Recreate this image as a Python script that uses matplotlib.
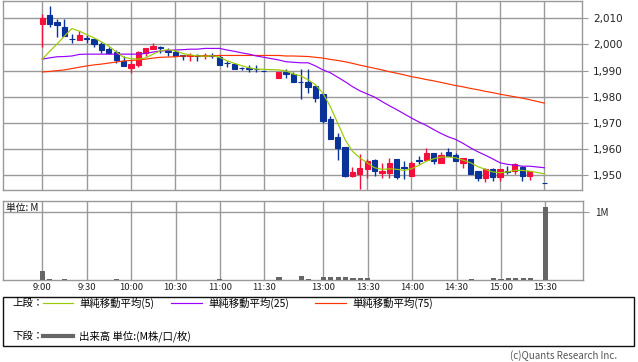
import numpy as np
import matplotlib
matplotlib.use("Agg")
import matplotlib.pyplot as plt
from matplotlib.patches import Rectangle
from matplotlib.lines import Line2D

plt.rcParams['font.family'] = ['Noto Sans CJK JP', 'DejaVu Sans']

nan = np.nan
# 5分足 (index 0 = 9:00, 31 / 67 = 取引なし)
opens = [2007.7, 2011.1, 2008.5, 2006.5, 2002.2, 2001.8, 2002.3, 2002.0, 2000.2, 1998.2,
         1997.3, 1993.8, 1991.0, 1992.3, 1996.6, 1998.2, 1998.9, 1997.6, 1997.2, 1995.8,
         1995.6, 1995.8, 1995.5, 1995.9, 1995.4, 1992.9, 1992.4, 1991.0, 1990.9, 1990.7,
         1989.8, nan, 1987.0, 1989.3, 1988.7, 1985.7, 1985.8, 1984.2, 1981.1, 1971.6,
         1964.5, 1960.8, 1949.7, 1950.4, 1952.5, 1955.8, 1950.9, 1951.0, 1956.1, 1953.0,
         1949.7, 1955.8, 1955.7, 1958.6, 1954.8, 1958.8, 1957.6, 1954.8, 1956.1, 1951.5,
         1949.0, 1952.3, 1949.4, 1951.6, 1951.6, 1953.3, 1949.7, nan, 1947.0]
highs = [2011.5, 2014.6, 2009.9, 2009.6, 2003.9, 2005.2, 2003.5, 2002.0, 2001.0, 1999.1,
         1997.9, 1995.6, 1994.1, 1997.5, 1998.6, 2000.6, 1999.4, 1998.5, 1997.9, 1996.0,
         1996.6, 1996.2, 1996.6, 1996.6, 1996.0, 1993.8, 1992.4, 1991.5, 1992.2, 1992.2,
         1989.8, nan, 1989.6, 1990.5, 1989.5, 1990.5, 1990.5, 1984.2, 1981.6, 1972.5,
         1966.0, 1960.8, 1953.2, 1958.0, 1956.1, 1956.2, 1954.8, 1956.8, 1956.1, 1955.4,
         1955.4, 1957.3, 1960.5, 1958.6, 1958.8, 1960.3, 1958.4, 1956.5, 1956.1, 1951.5,
         1952.7, 1952.9, 1952.3, 1953.5, 1954.8, 1953.5, 1951.6, nan, 1947.0]
lows = [1999.0, 2006.7, 2003.0, 2003.3, 2000.6, 2001.8, 2000.4, 1998.9, 1996.6, 1996.3,
        1992.8, 1991.9, 1989.2, 1991.5, 1995.5, 1998.1, 1996.6, 1995.6, 1995.6, 1993.9,
        1993.8, 1993.8, 1994.3, 1995.0, 1992.3, 1991.5, 1990.8, 1990.4, 1989.3, 1989.6,
        1989.8, nan, 1987.0, 1987.1, 1985.7, 1979.2, 1981.4, 1978.0, 1970.0, 1963.9,
        1955.8, 1949.3, 1949.5, 1944.6, 1949.1, 1949.8, 1949.1, 1949.1, 1948.7, 1948.7,
        1949.7, 1954.2, 1955.7, 1954.4, 1954.8, 1957.3, 1955.4, 1952.9, 1950.4, 1947.8,
        1947.5, 1947.8, 1947.8, 1950.6, 1950.4, 1947.8, 1948.2, nan, 1947.0]
closes = [2010.2, 2007.7, 2007.5, 2003.3, 2002.0, 2003.7, 2002.0, 2000.0, 1997.9, 1996.8,
          1994.0, 1991.9, 1992.5, 1997.0, 1998.6, 1999.4, 1998.5, 1997.1, 1995.6, 1995.6,
          1995.9, 1995.6, 1995.8, 1995.6, 1992.3, 1992.8, 1990.8, 1990.9, 1990.8, 1990.6,
          1989.8, nan, 1989.4, 1988.7, 1985.7, 1985.5, 1983.7, 1979.7, 1970.9, 1963.9,
          1960.5, 1949.7, 1951.4, 1952.7, 1955.4, 1951.5, 1951.5, 1954.6, 1949.5, 1952.7,
          1954.8, 1955.6, 1958.6, 1955.4, 1957.9, 1957.3, 1955.4, 1956.5, 1950.6, 1949.1,
          1952.3, 1949.5, 1952.3, 1951.3, 1954.4, 1949.7, 1951.6, nan, 1947.0]

# 移動平均 (チャートから読み取り)
ma5 = [1994.4, 1997.4, 2000.2, 2003.2, 2006.1, 2005.1, 2003.8, 2002.5, 2001.0, 1999.4,
       1997.2, 1995.1, 1994.6, 1994.4, 1994.9, 1996.3, 1997.6, 1998.0, 1997.6, 1996.6,
       1996.0, 1995.7, 1995.5, 1995.7, 1995.1, 1993.8, 1992.8, 1991.9, 1991.1, 1990.6,
       1990.5, nan, 1990.3, 1989.9, 1988.7, 1988.0, 1986.5, 1984.6, 1981.4, 1976.3,
       1970.0, 1963.7, 1959.2, 1956.7, 1954.8, 1952.9, 1952.3, 1952.5, 1952.3, 1951.9,
       1952.5, 1953.8, 1955.4, 1956.3, 1957.0, 1957.0, 1956.7, 1955.8, 1954.8, 1953.3,
       1952.3, 1951.3, 1951.0, 1951.3, 1951.9, 1951.9, 1951.6, nan, 1950.6]
ma25 = [1994.4, 1994.9, 1995.3, 1995.4, 1995.6, 1996.2, 1996.3, 1996.3, 1996.3, 1996.3,
        1996.3, 1996.3, 1996.3, 1996.3, 1996.6, 1997.1, 1997.5, 1997.7, 1997.9, 1998.0,
        1998.2, 1998.2, 1998.5, 1998.5, 1998.5, 1997.9, 1997.4, 1996.8, 1996.3, 1995.6,
        1995.1, nan, 1994.1, 1993.4, 1993.2, 1993.0, 1993.0, 1991.8, 1990.3, 1989.2,
        1987.5, 1985.8, 1983.9, 1982.3, 1981.1, 1979.9, 1978.2, 1976.6, 1975.1, 1973.5,
        1971.9, 1970.4, 1969.1, 1967.5, 1966.0, 1964.7, 1963.7, 1962.2, 1960.5, 1959.0,
        1957.7, 1956.3, 1954.8, 1954.2, 1953.9, 1953.5, 1953.5, nan, 1952.9]
ma75 = [1989.5, 1989.7, 1990.0, 1990.3, 1990.8, 1991.3, 1991.8, 1992.2, 1992.5, 1992.9,
        1993.3, 1993.7, 1993.9, 1994.1, 1994.4, 1994.8, 1995.1, 1995.2, 1995.3, 1995.6,
        1995.6, 1995.6, 1995.6, 1995.6, 1995.8, 1995.8, 1995.8, 1995.8, 1995.8, 1995.8,
        1995.8, nan, 1995.8, 1995.6, 1995.6, 1995.5, 1995.4, 1995.1, 1994.8, 1994.3,
        1993.9, 1993.4, 1992.8, 1992.1, 1991.5, 1990.9, 1990.3, 1989.6, 1989.0, 1988.4,
        1987.7, 1987.2, 1986.6, 1986.1, 1985.5, 1984.9, 1984.3, 1983.8, 1983.2, 1982.7,
        1982.1, 1981.6, 1981.0, 1980.5, 1980.0, 1979.5, 1978.9, nan, 1977.6]

# 出来高 (M)
volume = [0.13, 0.015, 0.006, 0.015, 0.006, 0.006, 0.006, 0.006, 0.006, 0.006,
          0.015, 0.006, 0.006, 0.006, 0.006, 0.006, 0.006, 0.006, 0.006, 0.006,
          0.006, 0.006, 0.006, 0.006, 0.015, 0.006, 0.006, 0.006, 0.006, 0.006,
          0.006, 0.0, 0.04, 0.006, 0.006, 0.055, 0.02, 0.006, 0.04, 0.04,
          0.04, 0.04, 0.025, 0.025, 0.025, 0.006, 0.006, 0.006, 0.006, 0.006,
          0.006, 0.006, 0.006, 0.006, 0.006, 0.006, 0.006, 0.006, 0.015, 0.006,
          0.006, 0.035, 0.02, 0.035, 0.035, 0.035, 0.035, 0.0, 1.07]

tick_pos = [0, 6, 12, 18, 24, 30, 38, 44, 50, 56, 62, 68]
tick_lbl = ['9:00', '9:30', '10:00', '10:30', '11:00', '11:30',
            '13:00', '13:30', '14:00', '14:30', '15:00', '15:30']
price_ticks = [1950, 1960, 1970, 1980, 1990, 2000, 2010]

W, H = 638, 362
def fx(x):
    return x / W
def fy(y):
    return 1 - y / H

up_c = '#f5103c'
dn_c = '#0a3399'
grid_c = '#999999'

fig = plt.figure(figsize=(W / 100, H / 100), dpi=100)
ax = fig.add_axes([fx(3), fy(190), (582 - 3) / W, 189.5 / H])
axv = fig.add_axes([fx(3), fy(280), (583 - 3) / W, 79 / H])

o = np.array(opens); h = np.array(highs); l = np.array(lows); c = np.array(closes)
idx = np.arange(len(o))
ok = ~np.isnan(o)

for i in idx[ok]:
    col = up_c if c[i] > o[i] else dn_c
    ax.vlines(i, l[i], h[i], color=col, lw=1.0, zorder=3)
    lo = min(o[i], c[i]); hi = max(o[i], c[i])
    ax.bar(i, hi - lo, bottom=lo, width=0.72, color=col, edgecolor=col, lw=0.8, zorder=3)

for ma, col in [(ma75, '#ff3300'), (ma25, '#9900ff'), (ma5, '#99cc00')]:
    m = np.array(ma)
    good = ~np.isnan(m)
    ax.plot(idx[good], m[good], color=col, lw=0.85, zorder=4)

ax.set_xlim(-5.33, 73.1)
ax.set_ylim(1944.4, 2016.8)
ax.set_xticks(tick_pos)
ax.set_xticklabels([])
ax.tick_params(axis='x', length=0)
ax.set_yticks(price_ticks)
ax.set_yticklabels([f'{p:,}' for p in price_ticks], family='DejaVu Sans', fontsize=7.5, color='#222222')
ax.yaxis.tick_right()
ax.tick_params(axis='y', length=4, color=grid_c, pad=4)
ax.grid(color=grid_c, lw=1.0)
ax.set_axisbelow(True)
for s in ax.spines.values():
    s.set_color(grid_c)
    s.set_linewidth(1.0)

axv.bar(idx, volume, width=0.7, color='#666666', zorder=3)
axv.set_xlim(-5.33, 73.1)
axv.set_ylim(0, 1.16)
axv.set_xticks(tick_pos)
axv.set_xticklabels(tick_lbl, fontsize=6.8, color='#222222')
axv.tick_params(axis='x', length=0, pad=2)
axv.set_yticks([1.0])
axv.set_yticklabels(['1M'], fontsize=7, color='#222222')
axv.yaxis.tick_right()
axv.tick_params(axis='y', length=4, color=grid_c, pad=5)
axv.grid(color=grid_c, lw=1.0)
axv.set_axisbelow(True)
for s in axv.spines.values():
    s.set_color(grid_c)
    s.set_linewidth(1.0)
axv.text(0.005, 0.97, '単位: M', transform=axv.transAxes, fontsize=7, va='top', ha='left', color='#111111', zorder=5)

# 凡例
fig.patches.append(Rectangle((fx(3), fy(346)), (634 - 3) / W, (346 - 297) / H,
                             transform=fig.transFigure, fill=False, edgecolor='#111111', lw=1.0))
ty1, ty2 = 303, 336
fig.text(fx(12), fy(ty1), '上段：', fontsize=7.5, va='center')
fig.text(fx(12), fy(ty2), '下段：', fontsize=7.5, va='center')
for x0, x1, col, lab in [(43, 73, '#99cc00', '単純移動平均(5)'),
                         (171, 202, '#9900ff', '単純移動平均(25)'),
                         (315, 346, '#ff3300', '単純移動平均(75)')]:
    fig.add_artist(Line2D([fx(x0), fx(x1)], [fy(ty1), fy(ty1)], color=col, lw=0.85))
    fig.text(fx(x1 + 6), fy(ty1), lab, fontsize=7.5, va='center')
fig.add_artist(Line2D([fx(43), fx(73)], [fy(ty2), fy(ty2)], color='#666666', lw=3.0))
fig.text(fx(79), fy(ty2), '出来高 単位:(M株/口/枚)', fontsize=7.5, va='center')

fig.text(fx(617), fy(356), '(c)Quants Research Inc.', fontsize=7, ha='right', va='center', color='#555555')

fig.savefig('out.png', dpi=100)
